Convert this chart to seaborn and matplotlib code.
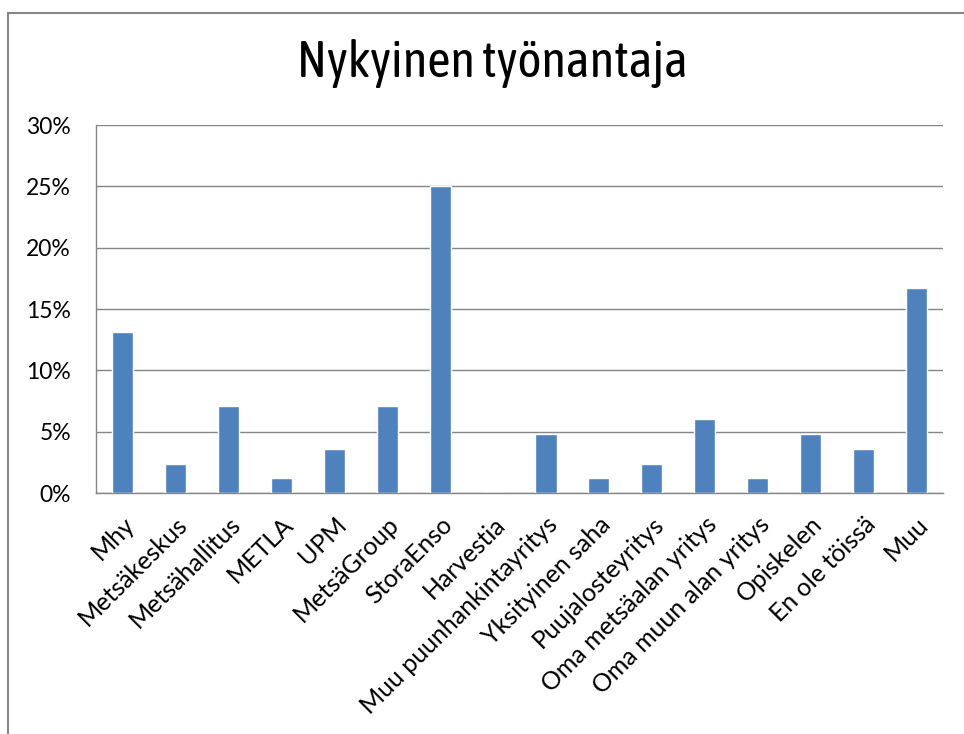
import pandas as pd
import matplotlib.pyplot as plt
import seaborn as sns
from matplotlib.patches import Rectangle
from matplotlib.ticker import FixedLocator, FuncFormatter

categories = [
    "Mhy", "Metsäkeskus", "Metsähallitus", "METLA", "UPM", "MetsäGroup",
    "StoraEnso", "Harvestia", "Muu puunhankintayritys", "Yksityinen saha",
    "Puujalosteyritys", "Oma metsäalan yritys", "Oma muun alan yritys",
    "Opiskelen", "En ole töissä", "Muu",
]
shares = [13.1, 2.4, 7.1, 1.2, 3.6, 7.1, 25.0, 0.0, 4.8, 1.2, 2.4, 6.0, 1.2, 4.8, 3.6, 16.7]
y_ticks = [0, 5, 10, 15, 20, 25, 30]
title = "Nykyinen työnantaja"

df = pd.DataFrame({"Tyonantaja": categories, "Osuus": shares})

sns.set_style("white")
plt.rcParams["font.family"] = ["Lato", "DejaVu Sans"]
plt.rcParams["text.color"] = "black"

grid_col = "#868686"
fig = plt.figure(figsize=(9.64, 7.34), dpi=100)
ax = fig.add_axes([96 / 964, 1 - 493 / 734, (943 - 96) / 964, (493 - 125) / 734])

sns.barplot(data=df, x="Tyonantaja", y="Osuus", color="#4F81BD", width=0.4,
            saturation=1, ax=ax, zorder=3)

ax.set_ylim(0, 30)
ax.set_xlim(-0.5, len(categories) - 0.5)
ax.set_yticks(y_ticks)
ax.yaxis.set_major_formatter(FuncFormatter(lambda v, _: f"{v:.0f}%"))
ax.grid(axis="y", color=grid_col, linewidth=1.0, zorder=0)
ax.set_axisbelow(True)
ax.set_xlabel("")
ax.set_ylabel("")

for side in ["top", "right"]:
    ax.spines[side].set_visible(False)
for side in ["left", "bottom"]:
    ax.spines[side].set_color(grid_col)
    ax.spines[side].set_linewidth(1.0)

ax.tick_params(axis="y", length=6, width=1.0, color=grid_col, labelsize=16.5,
               labelcolor="black", pad=12)
ax.tick_params(axis="x", which="major", length=0, labelsize=18, labelcolor="black", pad=14)
ax.xaxis.set_minor_locator(FixedLocator([i - 0.5 for i in range(len(categories) + 1)]))
ax.tick_params(axis="x", which="minor", length=6, width=1.0, color=grid_col)
ax.set_xticks(range(len(categories)))
ax.set_xticklabels(categories, rotation=45, ha="right", rotation_mode="anchor")

fig.text(492 / 964, 1 - 63 / 734, title, ha="center", va="center", fontsize=36.5,
         color="black", family=["Asap Condensed", "Roboto Condensed", "DejaVu Sans"])

# chart area frame (Excel-style)
fig.add_artist(Rectangle((8 / 964, -0.1), 1.2, 1.1 - 13 / 734,
                         transform=fig.transFigure, fill=False,
                         edgecolor=grid_col, linewidth=1.5))

fig.savefig("out.png", dpi=100)
